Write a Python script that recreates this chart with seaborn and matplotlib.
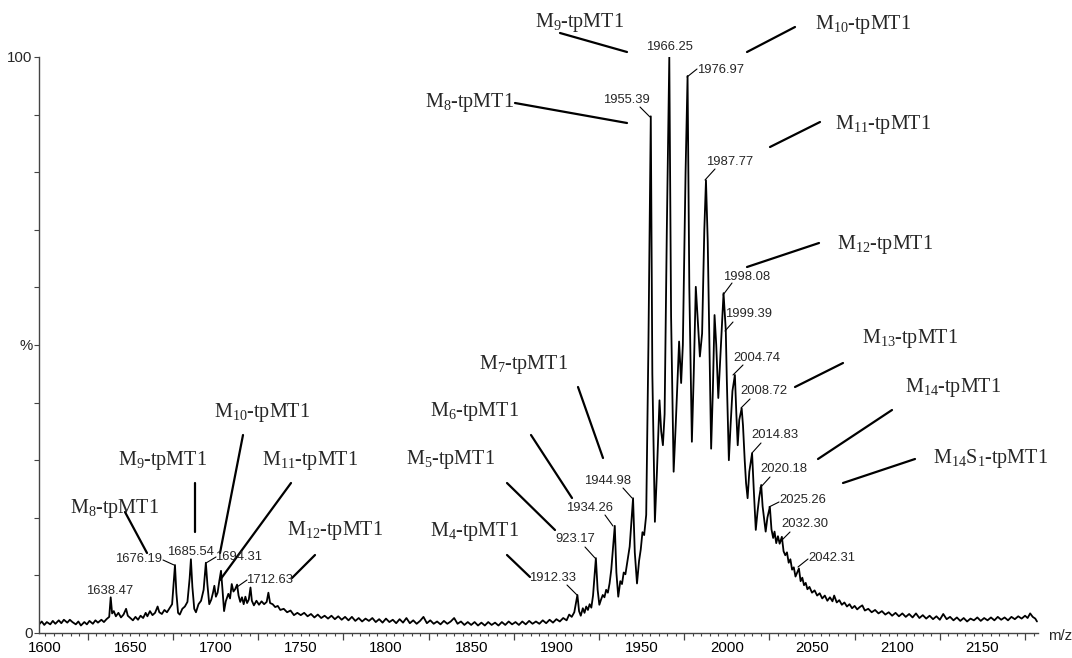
import matplotlib
matplotlib.use("Agg")
import matplotlib.pyplot as plt
import pandas as pd
import seaborn as sns
from matplotlib.ticker import FixedLocator, FuncFormatter

# --------------------------------------------------
# Spectrum trace (m/z, relative intensity %)
# --------------------------------------------------
mz = [
    1596.5, 1598, 1599.5, 1601, 1603, 1604.5, 1606, 1608, 1609.5, 1611, 1613, 1614.5, 1616, 1618,
    1619.5, 1621, 1623, 1624.5, 1626, 1628, 1629.5, 1631, 1633, 1634.5, 1636, 1637.6, 1638.47,
    1639.3, 1640.3, 1641.5, 1643, 1644.5, 1646, 1647.5, 1648.5, 1650, 1651.5, 1653, 1654.5, 1656,
    1657.5, 1659, 1660, 1661.5, 1663, 1664.5, 1666, 1667, 1668.5, 1670, 1671.5, 1673, 1674.5,
    1675.4, 1676.19, 1677, 1678, 1679, 1680.5, 1682, 1683.5, 1684.8, 1685.54, 1686.4, 1687.5,
    1688.5, 1690, 1691.5, 1693, 1694.31, 1695.2, 1696.3, 1697.5, 1698.5, 1699.3, 1700.2, 1701.2,
    1702.2, 1703.2, 1704, 1705, 1706, 1707.5, 1708.5, 1709.5, 1710.5, 1711.5, 1712.63, 1713.5,
    1714.5, 1715.5, 1716.5, 1717.5, 1718.5, 1719.5, 1720.5, 1721.3, 1722.5, 1724, 1725.5, 1727,
    1728.5, 1730, 1731, 1732, 1733.5, 1735, 1736.5, 1738, 1740, 1742, 1744, 1746, 1748, 1750,
    1752, 1754, 1756, 1758, 1760, 1762, 1764, 1766, 1768, 1770, 1772, 1774, 1776, 1778, 1780,
    1782, 1784, 1786, 1788, 1790, 1792, 1794, 1796, 1798, 1800, 1802, 1804, 1806, 1808, 1810,
    1812, 1814, 1816, 1818, 1820, 1822, 1824, 1826, 1828, 1830, 1832, 1834, 1836, 1838, 1840,
    1842, 1844, 1846, 1848, 1850, 1852, 1854, 1856, 1858, 1860, 1862, 1864, 1866, 1868, 1870,
    1872, 1874, 1876, 1878, 1880, 1882, 1884, 1886, 1888, 1890, 1892, 1894, 1896, 1898, 1900,
    1902, 1904, 1906, 1907.5, 1909, 1910.5, 1912.33, 1913.3, 1914.3, 1915.5, 1916.5, 1917.5,
    1918.5, 1919.5, 1920.5, 1921.5, 1923.17, 1924.2, 1925.2, 1926.2, 1927.2, 1928.2, 1929.2,
    1930.2, 1931.2, 1932.2, 1934.26, 1935.2, 1936.3, 1937.5, 1938.5, 1939.5, 1940.5, 1941.8,
    1943, 1944.98, 1946, 1947.3, 1948.5, 1949.5, 1950.5, 1951.5, 1952.7, 1954, 1955.39, 1956.3,
    1957.8, 1959, 1960.5, 1961.5, 1962.5, 1963.5, 1964.8, 1966.25, 1967.3, 1968.8, 1970, 1971.2,
    1972, 1973.2, 1974.2, 1975.8, 1976.97, 1978, 1979.5, 1980.6, 1981.8, 1982.8, 1984.2, 1985.5,
    1986.8, 1987.77, 1988.8, 1990.8, 1991.8, 1992.8, 1993.8, 1995, 1996.2, 1998.08, 1999.39, 2000,
    2001.2, 2002.2, 2003.3, 2004.74, 2005.6, 2006.4, 2007.3, 2008.72, 2009.5, 2010.5, 2011.3,
    2012.2, 2013.2, 2014.83, 2015.8, 2017, 2018, 2019, 2020.18, 2021, 2022, 2022.8, 2023.8,
    2025.26, 2026.2, 2027.2, 2028, 2029, 2030, 2031, 2032.3, 2033.3, 2034.3, 2035.3, 2036.3,
    2037.3, 2038.3, 2039.3, 2040.3, 2042.31, 2043.3, 2044.3, 2045.3, 2046.3, 2047.3, 2048.5,
    2050, 2051.5, 2053, 2054.5, 2056, 2057.5, 2059, 2060.5, 2062, 2063, 2064.5, 2066, 2067.5,
    2069, 2070.5, 2072, 2073.5, 2075, 2076.5, 2078, 2079.5, 2081, 2083, 2085, 2087, 2089, 2091,
    2093, 2095, 2097, 2099, 2101, 2103, 2105, 2107, 2109, 2111, 2113, 2115, 2117, 2119, 2121,
    2123, 2125, 2127, 2129, 2131, 2133, 2135, 2137, 2139, 2141, 2143, 2145, 2147, 2149, 2151,
    2153, 2155, 2157, 2159, 2161, 2163, 2165, 2167, 2169, 2171, 2173, 2175, 2176.5, 2178,
    2179.5, 2181, 2182,
]
intensity = [
    1.5, 2.0, 1.4, 1.9, 1.5, 2.1, 1.6, 2.2, 1.7, 2.3, 1.8, 2.3, 1.9, 1.5,
    2.0, 1.3, 1.9, 1.5, 2.1, 1.6, 2.2, 1.8, 2.3, 1.9, 2.4, 2.8, 6.2,
    3.4, 3.8, 2.9, 3.5, 2.7, 3.2, 4.2, 3.0, 2.6, 2.2, 2.8, 2.3, 3.0,
    2.6, 3.5, 2.9, 3.8, 3.1, 3.5, 4.6, 3.6, 3.3, 4.0, 3.6, 4.3, 5.0,
    8.5, 11.8, 7.0, 3.5, 3.2, 4.2, 4.6, 5.4, 9.5, 12.8, 8.0, 4.2,
    3.6, 5.0, 5.6, 7.5, 12.2, 8.5, 5.0, 5.8, 7.0, 8.2, 6.3, 7.0,
    9.0, 10.8, 7.8, 3.8, 5.5, 6.8, 6.0, 8.5, 7.2, 7.6, 8.4, 6.5,
    5.4, 6.2, 5.0, 6.3, 5.2, 5.8, 7.9, 5.6, 4.8, 5.6, 4.9, 5.5,
    5.0, 5.4, 7.0, 5.2, 5.0, 4.5, 4.7, 4.0, 4.2, 3.6, 3.9, 3.1, 3.5, 3.1,
    3.5, 2.9, 3.3, 2.7, 3.2, 2.6, 3.0, 2.5, 3.0, 2.4, 2.9, 2.3, 2.8, 2.2, 2.8,
    2.1, 2.6, 2.0, 2.5, 2.1, 2.6, 1.9, 2.4, 1.8, 2.5, 1.9, 2.3, 1.7, 2.4, 1.8,
    2.6, 1.7, 2.2, 1.6, 2.1, 2.8, 1.7, 2.2, 1.6, 2.0, 1.5, 2.1, 1.6, 2.0, 2.6,
    1.6, 2.0, 1.4, 1.9, 1.4, 1.9, 1.3, 1.8, 1.3, 1.9, 1.4, 1.8, 1.3, 1.9, 1.4,
    2.0, 1.5, 1.9, 1.4, 2.0, 1.5, 2.1, 1.6, 2.0, 1.6, 2.2, 1.7, 2.3, 1.8, 2.4,
    2.0, 2.6, 2.2, 3.2, 2.8, 3.6, 6.6, 3.8, 3.0, 4.3, 3.5, 4.6,
    4.0, 5.0, 4.4, 6.5, 13.0, 7.5, 4.9, 5.8, 6.6, 6.2, 7.5,
    7.0, 8.6, 11.0, 18.6, 10.5, 6.3, 9.0, 8.5, 10.5, 10.2, 12.7,
    15.0, 23.4, 14.0, 8.6, 12.5, 14.5, 17.5, 17.0, 20.5, 50.0, 89.7, 45.0,
    19.3, 28.0, 40.4, 35.0, 32.6, 38.0, 70.0, 100.0, 55.0, 28.0, 36.0, 45.0,
    50.6, 43.4, 50.0, 80.0, 96.7, 60.0, 33.2, 45.0, 60.1, 55.0, 48.0, 52.0,
    70.0, 78.6, 68.0, 32.0, 42.0, 55.2, 50.0, 40.8, 48.0, 59.0, 52.6, 44.0,
    30.0, 36.0, 42.0, 44.8, 38.0, 32.6, 37.0, 39.0, 36.0, 30.0, 26.0,
    23.4, 28.0, 31.2, 25.0, 17.9, 21.0, 23.5, 25.7, 22.0, 19.5, 17.6, 20.0,
    21.9, 18.0, 16.5, 17.6, 15.6, 16.8, 15.5, 16.7, 14.2, 13.5, 14.0, 12.2,
    12.8, 11.0, 11.4, 9.8, 11.2, 9.0, 9.6, 8.3, 8.7, 7.6, 8.0,
    7.0, 7.4, 6.5, 6.9, 6.0, 6.5, 5.6, 6.2, 5.5, 6.5, 5.3, 5.7, 4.9,
    5.3, 4.6, 5.0, 4.3, 4.7, 4.1, 4.5, 4.8, 3.9, 4.2, 3.6, 4.0, 3.4, 3.8,
    3.2, 3.6, 3.0, 3.5, 2.9, 3.4, 2.8, 3.3, 2.7, 3.4, 2.6, 3.1, 2.5, 3.0, 2.4,
    2.9, 2.3, 3.3, 2.4, 2.8, 2.2, 2.7, 2.1, 2.6, 2.0, 2.5, 2.2, 2.7, 2.1, 2.6,
    2.2, 2.7, 2.2, 2.8, 2.3, 2.7, 2.2, 2.8, 2.4, 2.9, 2.5, 3.0, 2.6, 3.4,
    2.8, 2.5, 2.0,
]

# peak labels (small numbers) and ion labels (serif, with subscripts)
peak_labels = ["1638.47", "1676.19", "1685.54", "1694.31", "1712.63", "1912.33", "923.17",
               "1934.26", "1944.98", "1955.39", "1966.25", "1976.97", "1987.77", "1998.08",
               "1999.39", "2004.74", "2008.72", "2014.83", "2020.18", "2025.26", "2032.30",
               "2042.31"]
ion_labels = [r"M$\mathregular{_8}$-tpMT1", r"M$\mathregular{_9}$-tpMT1",
              r"M$\mathregular{_{10}}$-tpMT1", r"M$\mathregular{_{11}}$-tpMT1",
              r"M$\mathregular{_{12}}$-tpMT1", r"M$\mathregular{_4}$-tpMT1",
              r"M$\mathregular{_5}$-tpMT1", r"M$\mathregular{_6}$-tpMT1",
              r"M$\mathregular{_7}$-tpMT1", r"M$\mathregular{_8}$-tpMT1",
              r"M$\mathregular{_9}$-tpMT1", r"M$\mathregular{_{10}}$-tpMT1",
              r"M$\mathregular{_{11}}$-tpMT1", r"M$\mathregular{_{12}}$-tpMT1",
              r"M$\mathregular{_{13}}$-tpMT1", r"M$\mathregular{_{14}}$-tpMT1",
              r"M$\mathregular{_{14}}$S$\mathregular{_1}$-tpMT1"]

# --------------------------------------------------
# Layout (reference image pixels, origin top-left)
# --------------------------------------------------
W, H = 1072, 658
peak_label_pos = [(110, 591), (139, 559), (190, 552), (239, 557), (270, 580), (553, 578),
                  (575, 539), (590, 508), (608, 481), (626, 100), (669, 47), (721, 70),
                  (730, 162), (747, 277), (749, 314), (757, 358), (764, 391), (775, 435),
                  (784, 469), (803, 500), (805, 524), (832, 558)]
peak_leaders = [None, (163, 560, 174, 565), None, (216, 557, 206, 563), (247, 580, 237, 587),
                (567, 585, 577, 595), (585, 547, 595, 558), (605, 515, 613, 526),
                (623, 488, 632, 498), (640, 107, 650, 117), None, (697, 69, 687, 77),
                (715, 169, 705, 180), (732, 283, 723, 295), (733, 322, 725, 331),
                (743, 365, 733, 375), (750, 399, 741, 408), (761, 443, 752, 453),
                (770, 477, 760, 488), (779, 502, 769, 507), (790, 532, 780, 542),
                (808, 559, 798, 567)]
ion_label_pos = [(70, 506), (118, 458), (214, 410), (262, 458), (287, 528), (430, 529),
                 (406, 457), (430, 409), (479, 362), (425, 100), (535, 20), (815, 22),
                 (835, 122), (837, 242), (862, 336), (905, 385), (933, 456)]
ion_leaders = [(125, 512, 147, 553), (195, 483, 195, 532), (243, 435, 220, 553),
               (291, 483, 220, 580), (315, 555, 292, 578), (507, 555, 530, 577),
               (507, 483, 555, 530), (531, 435, 572, 498), (578, 387, 603, 458),
               (515, 103, 627, 123), (560, 33, 627, 52), (795, 27, 747, 52),
               (820, 122, 770, 147), (819, 243, 747, 267), (843, 363, 795, 387),
               (892, 410, 818, 459), (915, 459, 843, 483)]


def fig_xy(x, y):
    return x / W, 1 - y / H


sns.set_theme(style="ticks")
plt.rcParams["font.family"] = ["Liberation Sans", "DejaVu Sans"]
plt.rcParams["mathtext.fontset"] = "custom"
plt.rcParams["mathtext.rm"] = "Liberation Serif"

fig = plt.figure(figsize=(W / 100, H / 100), dpi=100)
ax = fig.add_axes([39 / W, 1 - 633 / H, (1038 - 39) / W, (633 - 57) / H])

spectrum = pd.DataFrame({"mz": mz, "intensity": intensity})
sns.lineplot(data=spectrum, x="mz", y="intensity", estimator=None, sort=False,
             color="black", linewidth=1.3, ax=ax)

ax.set_xlim(1596.4, 2182.6)
ax.set_ylim(0, 100)
ax.set_xlabel("")
ax.set_ylabel("")
sns.despine(ax=ax)
for side in ["left", "bottom"]:
    ax.spines[side].set_color("#444444")
    ax.spines[side].set_linewidth(1.0)

# x ticks: long ticks at 25 offsets, short ones every 5, labels every 50
ax.xaxis.set_major_locator(FixedLocator(list(range(1625, 2183, 50))))
ax.xaxis.set_major_formatter(FuncFormatter(lambda v, p: ""))
ax.xaxis.set_minor_locator(FixedLocator(list(range(1600, 2183, 5))))
ax.xaxis.set_minor_formatter(FuncFormatter(lambda v, p: f"{int(round(v))}" if round(v) % 50 == 0 else ""))
ax.tick_params(axis="x", which="major", length=5, width=0.9, color="#444444")
ax.tick_params(axis="x", which="minor", length=2.5, width=0.8, color="#444444",
               labelsize=10.8, pad=3, labelcolor="black")

# y ticks every 10 %, labelled 0, % and 100
ax.yaxis.set_major_locator(FixedLocator(list(range(0, 101, 10))))
ax.yaxis.set_major_formatter(FuncFormatter(lambda v, p: {0: "0", 50: "%", 100: "100"}.get(int(round(v)), "")))
ax.tick_params(axis="y", which="major", length=3.5, width=0.8, color="#444444",
               labelsize=10.8, pad=1)

fx, fy = fig_xy(1048, 636)
fig.text(fx, fy, "m/z", fontsize=10.8, ha="left", va="center")

# peak mass labels with short leaders
for label, (x, y), lead in zip(peak_labels, peak_label_pos, peak_leaders):
    fx, fy = fig_xy(x, y)
    fig.text(fx, fy, label, fontsize=9.4, ha="center", va="center")
    if lead:
        x1, y1 = fig_xy(lead[0], lead[1])
        x2, y2 = fig_xy(lead[2], lead[3])
        fig.add_artist(plt.Line2D([x1, x2], [y1, y2], color="black", linewidth=0.8))

# ion assignment labels with longer leaders
for label, (x, y), lead in zip(ion_labels, ion_label_pos, ion_leaders):
    fx, fy = fig_xy(x, y + 7)
    fig.text(fx, fy, label, fontsize=14.5, family="Liberation Serif", ha="left", va="baseline")
    x1, y1 = fig_xy(lead[0], lead[1])
    x2, y2 = fig_xy(lead[2], lead[3])
    fig.add_artist(plt.Line2D([x1, x2], [y1, y2], color="black", linewidth=1.6))

fig.savefig("out.png", dpi=100, facecolor="white")
